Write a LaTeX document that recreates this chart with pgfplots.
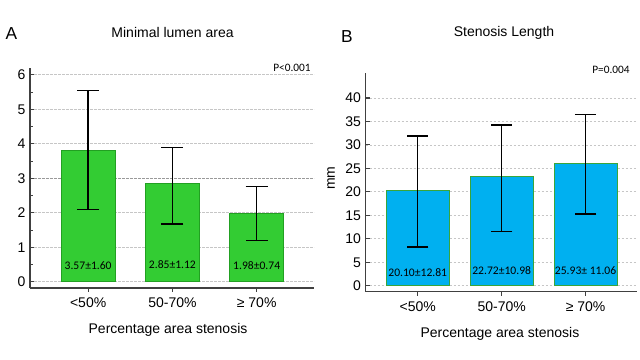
\documentclass[border=0pt]{standalone}
\usepackage{fontspec}
\setmainfont{Liberation Sans}
\newfontfamily\calib{Carlito}
\usepackage{pgfplots}
\usepackage{pgfplotstable}
\pgfplotsset{compat=1.18}
\definecolor{barg}{HTML}{33CC33}
\definecolor{bargedge}{HTML}{22A022}
\definecolor{barb}{HTML}{00B0F0}
\definecolor{barbedge}{HTML}{3AA53A}
\definecolor{axgray}{HTML}{404040}
\pgfplotstableread{
x y ep em
0 3.80 1.74 1.70
1 2.86 1.03 1.18
2 1.99 0.77 0.79
}\tabA
\pgfplotstableread{
x y ep em
0 20.33 11.57 12.08
1 23.38 10.87 11.88
2 26.08 10.45 10.80
}\tabB
\pgfplotsset{mystyle/.style={
  scale only axis, axis lines=left, axis line style={-, axgray, line width=0.9pt},
  ymajorgrids, major grid style={gray!45, dash pattern=on 2pt off 1pt, line width=0.6pt},
  tick align=inside, major tick length=3pt, minor tick length=2pt,
  tick style={axgray, line width=0.8pt},
  x tick style={yshift=-3pt},
  xtick={0,1,2}, xticklabels={{<50\%},{50-70\%},{≥ 70\%}},
  xticklabel style={yshift=-4pt},
  font=\fontsize{10.5}{12}\selectfont,
  /pgf/number format/assume math mode=true,
  enlargelimits=false, clip=false,
  xlabel={Percentage area stenosis},
}}
\begin{document}
\begin{tikzpicture}
\useasboundingbox (0,0) rectangle (480pt,270pt);
% Panel A
\begin{axis}[mystyle, anchor=south west, at={(22.5pt,54pt)}, width=213pt, height=165pt,
  xmin=-0.69, xmax=2.68, ymin=-0.18, ymax=6.2,
  ytick={0,1,2,4,5,6}, minor ytick={0.5,1.5,2.5,3.5,4.5,5.5},
  extra y ticks={3}, extra y tick style={major grid style={gray!80, dash pattern=on 2pt off 1pt, line width=0.7pt}},
  xlabel style={at={(axis description cs:0.486,0)}, anchor=center, yshift=-31.5pt},
]
\addplot[ybar, bar width=0.64, fill=barg, draw=bargedge, line width=0.6pt,
  error bars/.cd, y dir=both, y explicit,
  error bar style={black, line width=1pt},
  error mark options={black, line width=1pt, mark size=8.25pt, rotate=90}]
  table[x=x, y=y, y error plus=ep, y error minus=em] {\tabA};
\node[font=\calib\fontsize{8.7}{10}\selectfont] at (axis cs:0,0.48) {3.57±1.60};
\node[font=\calib\fontsize{8.7}{10}\selectfont] at (axis cs:1,0.50) {2.85±1.12};
\node[font=\calib\fontsize{8.7}{10}\selectfont] at (axis cs:2,0.48) {1.98±0.74};
\end{axis}
% Panel B
\begin{axis}[mystyle, anchor=south west, at={(274.3pt,51.2pt)}, width=203.3pt, height=163.8pt,
  xmin=-0.62, xmax=2.61, ymin=-1.28, ymax=45.26,
  ytick={0,5,...,40},
  xlabel style={at={(axis description cs:0.495,0)}, anchor=center, yshift=-31.5pt},
  ylabel={mm}, ylabel style={at={(axis description cs:-0.128,0.52)}, anchor=center},
]
\addplot[ybar, bar width=0.75, fill=barb, draw=barbedge, line width=0.6pt,
  error bars/.cd, y dir=both, y explicit,
  error bar style={black, line width=1pt},
  error mark options={black, line width=1pt, mark size=8pt, rotate=90}]
  table[x=x, y=y, y error plus=ep, y error minus=em] {\tabB};
\node[font=\calib\fontsize{8.7}{10}\selectfont] at (axis cs:0,2.9) {20.10±12.81};
\node[font=\calib\fontsize{8.7}{10}\selectfont] at (axis cs:1,3.3) {22.72±10.98};
\node[font=\calib\fontsize{8.7}{10}\selectfont] at (axis cs:2,3.3) {25.93± 11.06};
\end{axis}
% Titles and annotations
\node[font=\fontsize{13}{15}\selectfont] at (8.6pt,244.5pt) {A};
\node[font=\fontsize{10.5}{12}\selectfont] at (129.4pt,245.25pt) {Minimal lumen area};
\node[font=\fontsize{13}{15}\selectfont] at (260.25pt,242.25pt) {B};
\node[font=\fontsize{10.5}{12}\selectfont] at (378pt,245.25pt) {Stenosis Length};
\node[font=\calib\fontsize{8.5}{10}\selectfont] at (219pt,219pt) {P<0.001};
\node[font=\calib\fontsize{8.5}{10}\selectfont] at (458.25pt,217.5pt) {P=0.004};
\end{tikzpicture}
\end{document}
